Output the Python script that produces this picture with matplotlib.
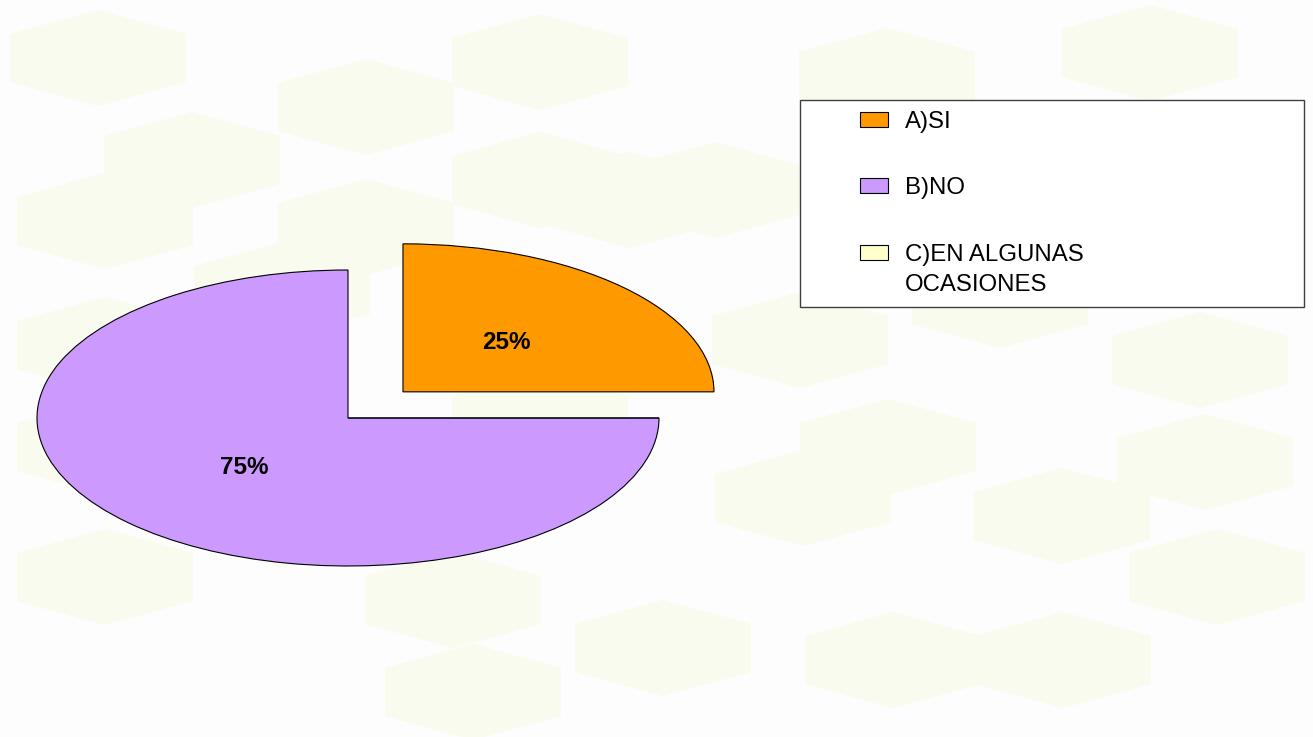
import matplotlib
matplotlib.use("Agg")
import matplotlib.pyplot as plt
from matplotlib.patches import Polygon, Rectangle
from matplotlib.legend_handler import HandlerPatch

# ---- data ----
categories = ["A)SI", "B)NO", "C)EN ALGUNAS\nOCASIONES"]
values = [25, 75, 0]
colors = ["#FF9900", "#CC99FF", "#FFFFCC"]
explode = [0.25, 0, 0]

W, H = 1313, 737
plt.rcParams['font.family'] = ['Liberation Sans', 'DejaVu Sans']
fig = plt.figure(figsize=(W / 100, H / 100), dpi=100, facecolor="#FDFDFD")


def fx(px):
    return px / W


def fy(py):
    return 1 - py / H


# ---- faint hexagon background decoration ----
hex_centres = [(98, 58), (366, 107), (540, 62), (887, 76), (1150, 53),
               (192, 160), (105, 221), (366, 227), (540, 180), (629, 200),
               (282, 290), (105, 345), (800, 340), (1200, 360), (715, 190),
               (105, 447), (540, 420), (888, 447), (803, 498), (1062, 516),
               (1205, 462), (1217, 577), (663, 648), (893, 660), (1063, 660),
               (105, 577), (453, 600), (473, 692), (1000, 300), (282, 520)]
hw, sh, ah = 88, 24, 48
for cx, cy in hex_centres:
    pts = [(cx - hw, cy - sh), (cx, cy - ah), (cx + hw, cy - sh),
           (cx + hw, cy + sh), (cx, cy + ah), (cx - hw, cy + sh)]
    fig.add_artist(Polygon([(fx(x), fy(y)) for x, y in pts], closed=True,
                           transform=fig.transFigure, facecolor="#F9FBEE",
                           edgecolor="none", zorder=0))

# ---- pie (stretched to an ellipse) ----
cx0, cy0, rx, ry = 348, 418, 311, 148
ax = fig.add_axes([fx(cx0 - 1.1 * rx), fy(cy0 + 1.1 * ry), 2.4 * rx / W, 2.4 * ry / H])
ax.patch.set_visible(False)

wedges, texts, autotexts = ax.pie(
    values, colors=colors, explode=explode, startangle=0, counterclock=True,
    autopct=lambda p: f"{p:.0f}%" if p > 0 else "",
    pctdistance=0.47,
    wedgeprops=dict(edgecolor="black", linewidth=0.8),
    textprops=dict(fontsize=17.5, fontweight="bold", color="black"),
)
ax.set_aspect("auto")
ax.set_xlim(-1.1, 1.3)
ax.set_ylim(-1.1, 1.3)
ax.axis("off")

# ---- legend ----
fig.add_artist(Rectangle((fx(800), fy(307)), 504 / W, 207 / H,
                         transform=fig.transFigure, facecolor="white",
                         edgecolor="#404040", linewidth=1.0, zorder=1))


def top_patch(legend, orig_handle, xdescent, ydescent, width, height, fontsize):
    return Rectangle((-xdescent, -ydescent + 0.72 * fontsize), width, height)


fs = 17.3
leg = fig.legend(
    wedges, categories, loc="upper left",
    bbox_to_anchor=(fx(860), fy(111)), frameon=False, fontsize=fs,
    handlelength=1.17, handleheight=0.58, handletextpad=0.71,
    labelspacing=1.85, borderpad=0, borderaxespad=0,
    handler_map={wedges[2]: HandlerPatch(patch_func=top_patch)},
)
for t in leg.get_texts():
    t.set_linespacing(1.45)
for h in leg.legend_handles:
    h.set_edgecolor("black")
    h.set_linewidth(0.8)

fig.savefig("out.png", dpi=100, facecolor=fig.get_facecolor())
